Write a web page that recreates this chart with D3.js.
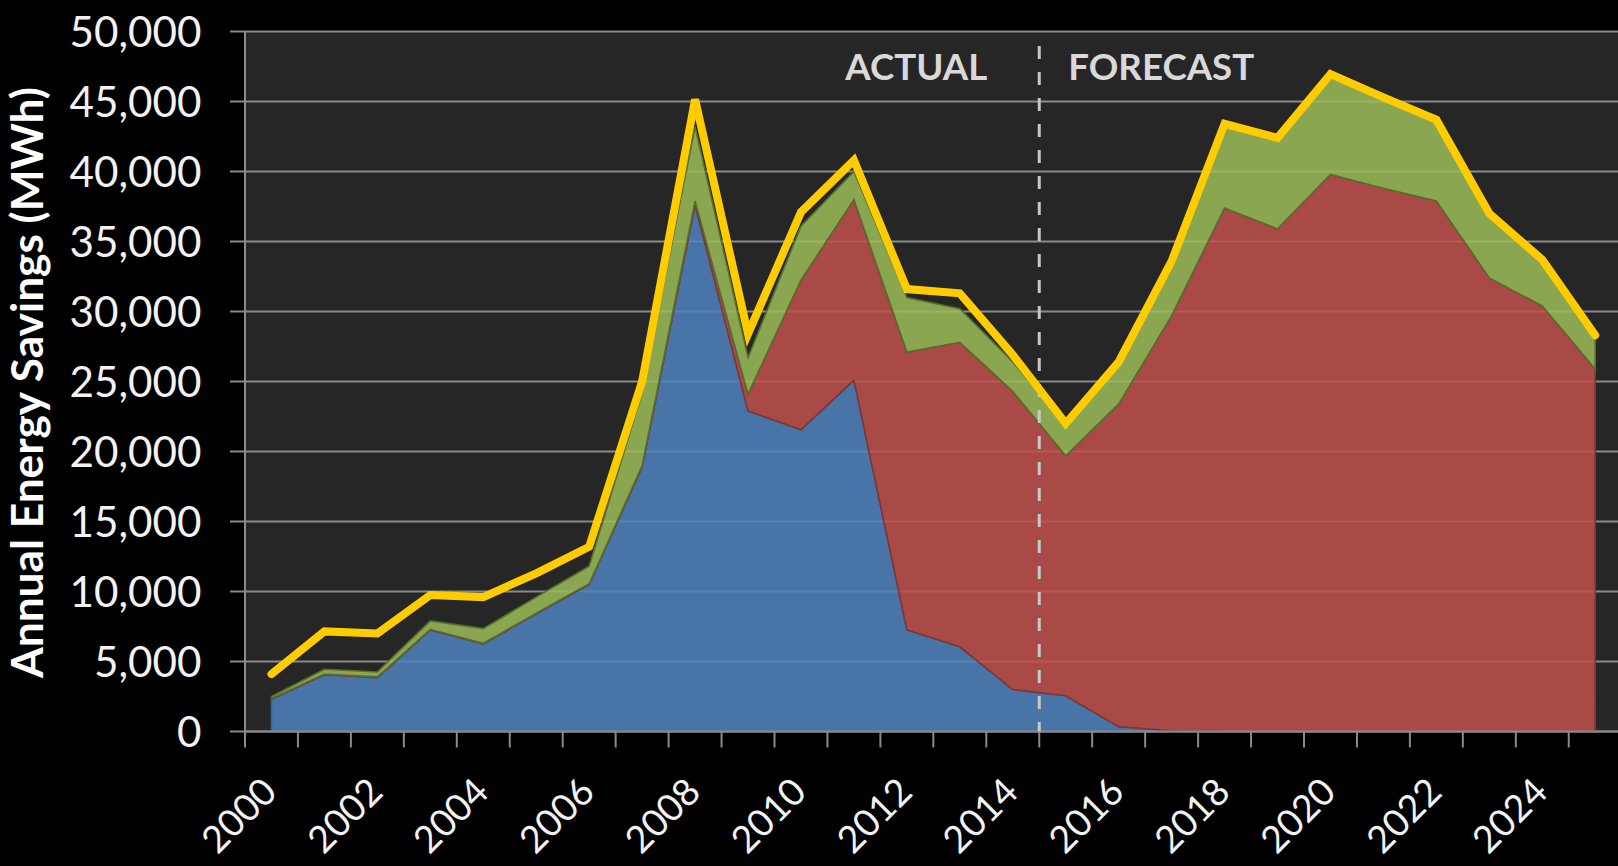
<!DOCTYPE html>
<html>
<head>
<meta charset="utf-8">
<script src="https://cdn.jsdelivr.net/npm/d3@7"></script>
<style>
  html, body { margin: 0; padding: 0; background: #000; overflow: hidden; }
  svg { display: block; }
</style>
</head>
<body>
<svg id="chart" width="1618" height="866"></svg>
<script>
// ---------- data ----------
const years = [2000, 2001, 2002, 2003, 2004, 2005, 2006, 2007, 2008, 2009, 2010, 2011, 2012,
               2013, 2014, 2015, 2016, 2017, 2018, 2019, 2020, 2021, 2022, 2023, 2024, 2025];
const blueSeries  = [2300, 4050, 3850, 7250, 6250, 8400, 10500, 18900, 37600, 22900, 21550, 25100, 7250,
                     6050, 3000, 2550, 350, 50, 0, 0, 0, 0, 0, 0, 0, 0];
const redSeries   = [50, 50, 50, 50, 50, 50, 50, 100, 300, 1200, 10700, 12900, 19850,
                     21750, 21300, 17150, 23050, 29650, 37400, 35900, 39800, 38800, 37900, 32400, 30400, 25900];
const greenSeries = [150, 350, 350, 600, 1050, 1150, 1250, 5200, 5300, 2600, 3850, 2000, 3900,
                     2400, 2100, 2150, 2850, 3750, 5850, 6350, 6950, 6350, 5650, 4450, 3150, 2250];
const totalLine   = [4100, 7150, 7000, 9750, 9600, 11300, 13200, 25000, 45150, 28400, 37100, 40800, 31600,
                     31300, 26900, 22000, 26400, 33600, 43400, 42400, 46950, 45300, 43700, 37000, 33700, 28300];
const yTicks = [0, 5000, 10000, 15000, 20000, 25000, 30000, 35000, 40000, 45000, 50000];
const xTickLabels = [2000, 2002, 2004, 2006, 2008, 2010, 2012, 2014, 2016, 2018, 2020, 2022, 2024];
const yTitle = "Annual Energy Savings (MWh)";
const actualLabel = "ACTUAL";
const forecastLabel = "FORECAST";
const splitYear = 2015; // forecast starts here

// ---------- layout ----------
const W = 1618, H = 866;
const plotL = 245, plotT = 31.5, plotB = 731.5;
const bandW = 52.95;
const plotR = plotL + bandW * years.length;
const FONT = "Lato, 'Open Sans', 'DejaVu Sans', sans-serif";

const svg = d3.select("#chart");
svg.append("rect").attr("width", W).attr("height", H).attr("fill", "#000");

const x = d3.scaleBand().domain(years).range([plotL, plotR]).padding(0);
const xc = d => x(d) + x.bandwidth() / 2;
const y = d3.scaleLinear().domain([0, 50000]).range([plotB, plotT]);

// plot background
svg.append("rect").attr("x", plotL).attr("y", plotT)
  .attr("width", plotR - plotL).attr("height", plotB - plotT).attr("fill", "#262626");

// gridlines (extend left as tick marks)
svg.append("g").selectAll("line").data(yTicks).join("line")
  .attr("x1", plotL - 15).attr("x2", plotR)
  .attr("y1", d => y(d)).attr("y2", d => y(d))
  .attr("stroke", "#8a8a8a").attr("stroke-width", 2);

// ---------- stacked areas ----------
const rows = years.map((yr, i) => ({ year: yr, blue: blueSeries[i], red: redSeries[i], green: greenSeries[i] }));
const stack = d3.stack().keys(["blue", "red", "green"]);
const layers = stack(rows);
const fills = { blue: "#4f81bd", red: "#c0504d", green: "#9bbb59" };
const strokes = { blue: "#3a6190", red: "#7e3533", green: "#56702c" };
const area = d3.area()
  .x(d => xc(d.data.year))
  .y0(d => y(d[0]))
  .y1(d => y(d[1]));

svg.append("g").selectAll("path").data(layers).join("path")
  .attr("d", area)
  .attr("fill", d => fills[d.key])
  .attr("fill-opacity", 0.86)
  .attr("stroke", d => strokes[d.key])
  .attr("stroke-width", 1.6)
  .attr("stroke-linejoin", "miter");

// ---------- axes ----------
svg.append("line").attr("x1", plotL).attr("x2", plotL).attr("y1", plotT).attr("y2", plotB + 15)
  .attr("stroke", "#8a8a8a").attr("stroke-width", 2);
svg.append("line").attr("x1", plotL).attr("x2", plotR).attr("y1", plotB).attr("y2", plotB)
  .attr("stroke", "#8a8a8a").attr("stroke-width", 2);
const boundaries = years.map(d => x(d)).concat([plotR]);
svg.append("g").selectAll("line").data(boundaries).join("line")
  .attr("x1", d => d).attr("x2", d => d)
  .attr("y1", plotB).attr("y2", plotB + 16)
  .attr("stroke", "#8a8a8a").attr("stroke-width", 2);

const yAxis = d3.axisLeft(y).tickValues(yTicks).tickFormat(d3.format(",")).tickSize(0).tickPadding(0);
const yAxisG = svg.append("g").attr("transform", `translate(${201.5},0)`).call(yAxis);
yAxisG.select(".domain").remove();
yAxisG.selectAll("text")
  .attr("fill", "#f2f2f2")
  .attr("font-family", FONT)
  .attr("font-size", 42)
  .attr("x", 0)
  .attr("dy", "0.36em");

const xLab = svg.append("g").selectAll("text").data(xTickLabels).join("text")
  .text(d => d)
  .attr("transform", d => `translate(${xc(d) + 7.5},${794}) rotate(-45)`)
  .attr("text-anchor", "end")
  .attr("fill", "#f2f2f2")
  .attr("font-family", FONT)
  .attr("font-size", 40);

function fit(sel, target) {
  const node = sel.node();
  const fs = parseFloat(sel.attr("font-size"));
  const w = node.getComputedTextLength();
  if (w > 0) sel.attr("font-size", fs * target / w);
}
fit(yAxisG.selectAll("text").filter(d => d === 50000), 132);
const fittedY = parseFloat(yAxisG.selectAll("text").filter(d => d === 50000).attr("font-size"));
yAxisG.selectAll("text").attr("font-size", fittedY);
fit(xLab.filter(d => d === 2014), 87);
const fittedX = parseFloat(xLab.filter(d => d === 2014).attr("font-size"));
xLab.attr("font-size", fittedX);

const title = svg.append("text")
  .text(yTitle)
  .attr("transform", `translate(43,382.5) rotate(-90)`)
  .attr("text-anchor", "middle")
  .attr("fill", "#ffffff")
  .attr("font-family", FONT)
  .attr("font-weight", "bold")
  .attr("font-size", 44);
fit(title, 591);

// ---------- forecast divider ----------
const splitX = x(splitYear);
svg.append("line").attr("x1", splitX).attr("x2", splitX)
  .attr("y1", 46).attr("y2", plotB)
  .attr("stroke", "#c8c8c8").attr("stroke-width", 3)
  .attr("stroke-dasharray", "13,13");

const fLab = svg.append("text").text(forecastLabel)
  .attr("x", splitX + 29).attr("y", 80)
  .attr("text-anchor", "start")
  .attr("fill", "#d9d9d9").attr("font-family", FONT).attr("font-weight", "bold").attr("font-size", 40);
fit(fLab, 186);
const aLab = svg.append("text").text(actualLabel)
  .attr("x", splitX - 52).attr("y", 80)
  .attr("text-anchor", "end")
  .attr("fill", "#d9d9d9").attr("font-family", FONT).attr("font-weight", "bold")
  .attr("font-size", fLab.attr("font-size"));

// ---------- total line ----------
const line = d3.line().x((d, i) => xc(years[i])).y(d => y(d));
svg.append("path").datum(totalLine)
  .attr("d", line)
  .attr("fill", "none")
  .attr("stroke", "#ffcc00")
  .attr("stroke-width", 8)
  .attr("stroke-linejoin", "miter")
  .attr("stroke-linecap", "round");
</script>
</body>
</html>
